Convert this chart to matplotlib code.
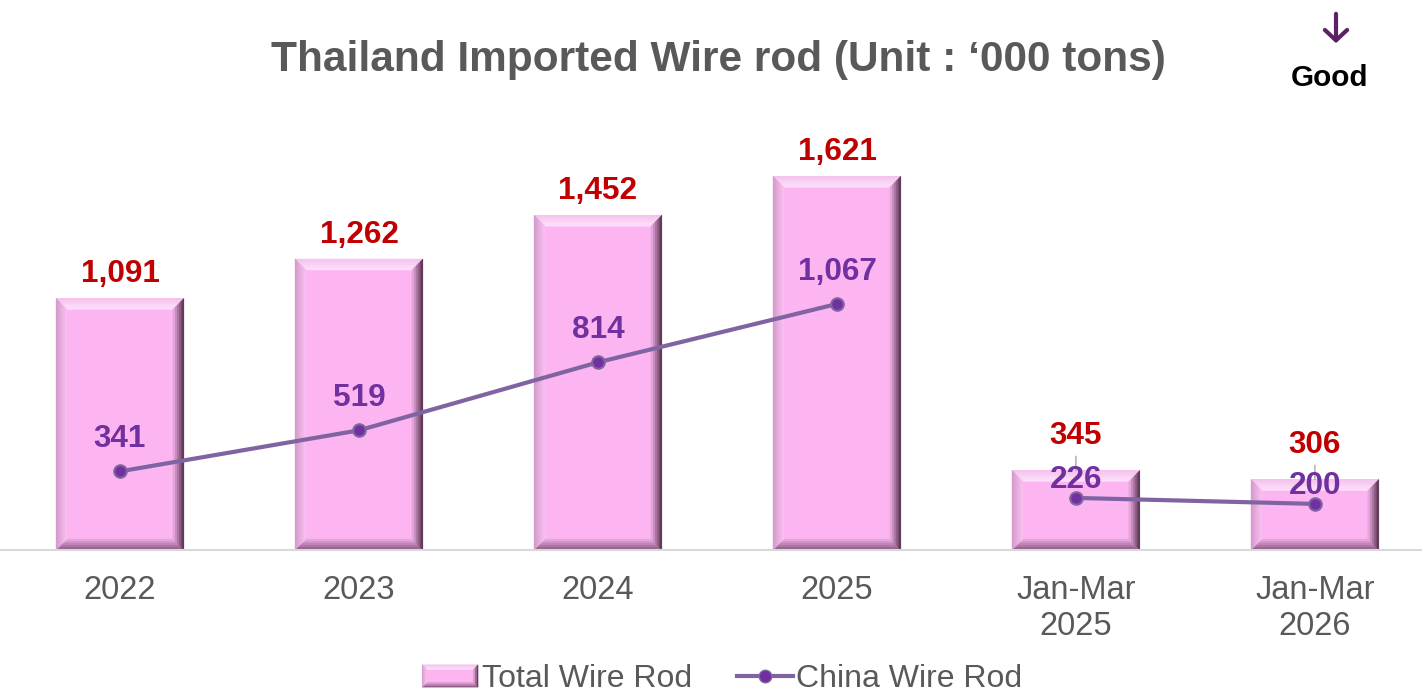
import matplotlib
matplotlib.use("Agg")
import matplotlib.pyplot as plt
import numpy as np
from matplotlib.patches import Polygon, Rectangle
from matplotlib.legend_handler import HandlerBase
from matplotlib.lines import Line2D
from matplotlib.colors import to_rgb

plt.rcParams["font.family"] = ["Liberation Sans", "DejaVu Sans"]

categories = ["2022", "2023", "2024", "2025", "Jan-Mar\n2025", "Jan-Mar\n2026"]
total_wire_rod = [1091, 1262, 1452, 1621, 345, 306]
china_wire_rod = [341, 519, 814, 1067, 226, 200]
# the line is broken between the yearly and the quarterly groups
line_groups = [[0, 1, 2, 3], [4, 5]]

GRAY = "#595959"
RED = "#C00000"
PURPLE = "#7030A0"
LINE = "#8064A2"
PINK = "#FDB5F2"
# outer -> inner colours of each bevel side
BEVEL = {"top": ("#F3C2EC", "#FFE2FC"),
         "left": ("#D297C8", "#FAC2F2"),
         "right": ("#4A2642", "#F2B0E8"),
         "bottom": ("#7E4E74", "#EEADE4")}


def mix(c1, c2, t):
    a, b = np.array(to_rgb(c1)), np.array(to_rgb(c2))
    return tuple(a + (b - a) * t)


def bevel_patches(x0, y0, x1, y1, bx, by, transform, n=6):
    """Pink rectangle with four shaded bevel sides, sizes given in the
    coordinates of `transform`."""
    arts = [Rectangle((x0, y0), x1 - x0, y1 - y0, facecolor=PINK,
                      edgecolor="none", transform=transform)]
    for k in range(n):
        t0, t1 = k / n, (k + 1) / n
        ax0, ay0 = bx * t0, by * t0
        ax1, ay1 = bx * t1, by * t1
        sides = {
            "top": [(x0 + ax0, y1 - ay0), (x1 - ax0, y1 - ay0),
                    (x1 - ax1, y1 - ay1), (x0 + ax1, y1 - ay1)],
            "bottom": [(x0 + ax0, y0 + ay0), (x1 - ax0, y0 + ay0),
                       (x1 - ax1, y0 + ay1), (x0 + ax1, y0 + ay1)],
            "left": [(x0 + ax0, y0 + ay0), (x0 + ax0, y1 - ay0),
                     (x0 + ax1, y1 - ay1), (x0 + ax1, y0 + ay1)],
            "right": [(x1 - ax0, y0 + ay0), (x1 - ax0, y1 - ay0),
                      (x1 - ax1, y1 - ay1), (x1 - ax1, y0 + ay1)],
        }
        for side, pts in sides.items():
            c = mix(*BEVEL[side], (t0 + t1) / 2)
            arts.append(Polygon(pts, closed=True, facecolor=c, edgecolor=c,
                                lw=0.3, transform=transform))
    return arts


class BevelHandler(HandlerBase):
    def create_artists(self, legend, orig_handle, xdescent, ydescent,
                       width, height, fontsize, trans):
        return bevel_patches(-xdescent, -ydescent, -xdescent + width,
                             -ydescent + height, 3.5, 3.5, trans, n=3)


fig = plt.figure(figsize=(14.22, 6.93), dpi=100)
ax = fig.add_axes([0, 0.2063, 1, 0.599])
x = np.arange(len(categories))
ax.set_xlim(-0.502, 5.448)
ax.set_ylim(0, 1800)

# bevelled bars
width = 0.535
bars = ax.bar(x, total_wire_rod, width, color="none", zorder=1)
px_x = (5.448 + 0.502) / (fig.get_figwidth() * fig.dpi * 1.0)
px_y = 1800 / (fig.get_figheight() * fig.dpi * 0.599)
for b in bars:
    for art in bevel_patches(b.get_x(), 0, b.get_x() + b.get_width(),
                             b.get_height(), 11 * px_x, 11 * px_y,
                             ax.transData):
        art.set_zorder(2)
        ax.add_patch(art)

china = np.array(china_wire_rod)
for g in line_groups:
    ax.plot(x[g], china[g], color=LINE, lw=3, marker="o", ms=9,
            mfc=PURPLE, mec=LINE, mew=1.5, zorder=4)

FS = 22.7
for i, v in enumerate(total_wire_rod):
    small = v < 500
    ax.annotate(f"{v:,}", (i, v), xytext=(0, 25 if small else 17.5),
                textcoords="offset points", ha="center", va="center",
                fontsize=FS, fontweight="bold", color=RED, zorder=5,
                arrowprops=dict(arrowstyle="-", color="#A6A6A6", lw=1,
                                shrinkA=2, shrinkB=0) if small else None)
for i, v in enumerate(china_wire_rod):
    off = 13 if v < 300 else 23
    ax.annotate(f"{v:,}", (i, v), xytext=(0, off), textcoords="offset points",
                ha="center", va="center", fontsize=FS, fontweight="bold",
                color=PURPLE, zorder=5)

ax.set_xticks(x, categories)
ax.tick_params(axis="x", length=0, pad=18, labelsize=23.5, labelcolor=GRAY)
ax.set_yticks([])
for s in ["top", "left", "right"]:
    ax.spines[s].set_visible(False)
ax.spines["bottom"].set_color("#D9D9D9")
ax.spines["bottom"].set_linewidth(1.5)

fig.text(0.505, 0.913, "Thailand Imported Wire rod (Unit : \u2018000 tons)",
         ha="center", va="center", fontsize=30.5, fontweight="bold",
         color=GRAY)
fig.text(0.935, 0.887, "Good", ha="center", va="center", fontsize=21.4,
         fontweight="bold", color="black")
ax.annotate("", xy=(1336, 647), xytext=(1336, 682), xycoords="figure pixels",
            textcoords="figure pixels",
            arrowprops=dict(arrowstyle="->,head_length=0.75,head_width=0.8",
                            lw=3, color="#5B2366"))

bar_handle = Rectangle((0, 0), 1, 1)
line_handle = Line2D([], [], color=LINE, lw=3, marker="o", ms=9,
                     mfc=PURPLE, mec=LINE)
fig.legend([bar_handle, line_handle], ["Total Wire Rod", "China Wire Rod"],
           handler_map={Rectangle: BevelHandler()}, loc="center",
           bbox_to_anchor=(0.508, 0.02), ncol=2, frameon=False,
           fontsize=23, labelcolor=GRAY, handlelength=1.75,
           handletextpad=0.12, columnspacing=1.4)

fig.savefig("out.png", dpi=100)
